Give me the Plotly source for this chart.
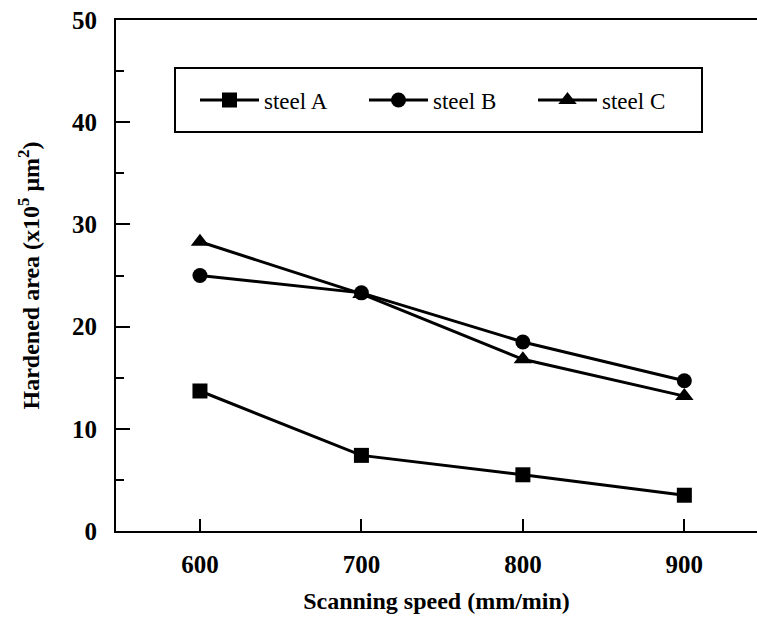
import plotly.graph_objects as go

speed = [600, 700, 800, 900]
steel_a = [13.7, 7.4, 5.5, 3.5]
steel_b = [25.0, 23.3, 18.5, 14.7]
steel_c = [28.3, 23.2, 16.8, 13.2]
names = ["steel A", "steel B", "steel C"]
symbols = ["square", "circle", "triangle-up"]

FONT = "Liberation Serif"
L, R, T, B = 116, 0, 20, 87
W, H = 757, 618
PW, PH = W - L - R, H - T - B

fig = go.Figure()
for name, vals, sym in zip(names, [steel_a, steel_b, steel_c], symbols):
    fig.add_trace(go.Scatter(
        x=speed, y=vals, name=name, mode="lines+markers",
        line=dict(color="black", width=3),
        marker=dict(symbol=sym, size=15 if sym != "triangle-up" else 16, color="black"),
    ))

fig.update_layout(
    width=W, height=H,
    margin=dict(l=L, r=R, t=T, b=B, autoexpand=False),
    plot_bgcolor="white", paper_bgcolor="white",
    font=dict(family=FONT, color="black"),
    showlegend=True,
    legend=dict(
        orientation="h", x=(195 - L) / PW, y=(H - B - 100) / PH,
        xanchor="left", yanchor="middle",
        font=dict(family=FONT, size=23, color="black"),
        bgcolor="rgba(0,0,0,0)", borderwidth=0,
        entrywidth=95, itemwidth=59,
    ),
    shapes=[dict(type="rect", xref="paper", yref="paper",
                 x0=(175 - L) / PW, x1=(702 - L) / PW,
                 y0=(H - B - 132) / PH, y1=(H - B - 68) / PH,
                 line=dict(color="black", width=2))],
)

fig.update_xaxes(
    range=[548, 945], showgrid=False, zeroline=False, automargin=False,
    showline=True, linecolor="black", linewidth=2, mirror=True,
    ticks="inside", ticklen=12, tickwidth=1.5, tickcolor="black",
    tickvals=speed, ticklabelstandoff=10,
    tickfont=dict(family=FONT, size=25, weight="bold"),
    title=dict(text="Scanning speed (mm/min)", standoff=15,
               font=dict(family=FONT, size=24, weight="bold")),
)
fig.update_yaxes(
    range=[0, 50], showgrid=False, zeroline=False, automargin=False,
    showline=True, linecolor="black", linewidth=2, mirror=False,
    ticks="inside", ticklen=14, tickwidth=1.5, tickcolor="black",
    dtick=10, ticklabelstandoff=12,
    minor=dict(dtick=5, ticks="inside", ticklen=8, tickwidth=1.5, tickcolor="black"),
    tickfont=dict(family=FONT, size=25, weight="bold"),
    title=dict(text="Hardened area (x10<sup>5</sup> μm<sup>2</sup>)", standoff=26,
               font=dict(family=FONT, size=24, weight="bold")),
)

fig.write_html(
    "out.html",
    config={"displayModeBar": False},
    post_script="document.body.style.margin='0';document.body.style.overflow='hidden';",
)
